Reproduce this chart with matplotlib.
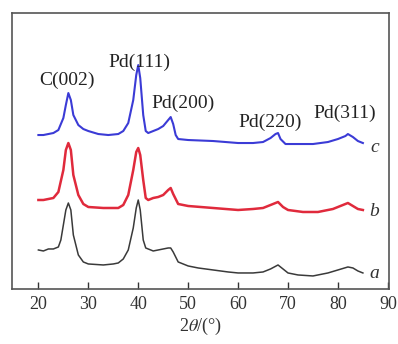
import matplotlib
matplotlib.use("Agg")
import matplotlib.pyplot as plt

plt.rcParams["font.family"] = ["Liberation Serif", "DejaVu Serif"]
plt.rcParams["mathtext.fontset"] = "stix"

# XRD patterns (intensity in a.u., curves already vertically offset)
c_x = [20, 21, 22, 23, 24, 25, 25.5, 26, 26.5, 27, 28, 29, 30, 32, 34, 36, 37, 38, 39, 39.6,
       40, 40.4, 41, 41.5, 42, 43, 44, 45, 46, 46.5, 47, 47.5, 48, 50, 55, 60, 63, 65, 66.5, 67.5,
       68, 68.5, 69.5, 72, 75, 78, 80, 81.5, 82, 83, 84, 85]
c_y = [165, 165, 166, 167, 170, 182, 195, 207, 200, 185, 175, 171, 169, 166, 165, 166, 169, 177, 200, 225,
       235, 222, 185, 169, 167, 169, 171, 174, 180, 183, 176, 165, 161, 160, 159, 157, 157, 158, 162, 166,
       167, 161, 156, 156, 156, 158, 161, 164, 166, 163, 159, 157]

b_x = [20, 21, 22, 23, 24, 25, 25.5, 26, 26.5, 27, 28, 29, 30, 33, 36, 37, 38, 39, 39.6, 40,
       40.4, 41, 41.5, 42, 43, 44, 45, 46, 46.5, 47, 48, 50, 55, 60, 63, 65, 67, 68, 69, 70,
       73, 76, 79, 81, 82, 83, 84, 85]
b_y = [100, 100, 101, 102, 108, 130, 150, 157, 150, 125, 105, 96, 93, 92, 92, 95, 105, 130, 148, 152,
       145, 120, 102, 100, 102, 103, 105, 110, 112, 106, 96, 94, 92, 90, 91, 92, 96, 98, 93, 90,
       88, 88, 91, 95, 97, 94, 91, 90]

a_x = [20, 21, 22, 23, 24, 24.5, 25, 25.5, 26, 26.5, 27, 28, 29, 30, 33, 35, 36, 37, 38, 39,
       39.6, 40, 40.4, 41, 41.5, 42, 43, 44, 45, 46, 46.5, 47, 48, 50, 52, 55, 58, 60, 63, 65,
       66.5, 68, 69, 70, 72, 75, 78, 80, 82, 83, 84, 85]
a_y = [50, 49, 51, 51, 53, 60, 75, 90, 97, 90, 65, 45, 38, 36, 35, 36, 37, 41, 50, 72,
       92, 100, 90, 60, 52, 51, 49, 50, 51, 52, 52, 48, 38, 34, 32, 30, 28, 27, 27, 28,
       31, 35, 31, 27, 25, 24, 27, 30, 33, 32, 29, 27]

peak_labels = ["C(002)", "Pd(111)", "Pd(200)", "Pd(220)", "Pd(311)"]
peak_label_x = [25.7, 40.3, 48.9, 66.5, 81.3]
peak_label_y = [220, 238, 197, 178, 187]

curve_names = ["c", "b", "a"]
curve_name_y = [153, 88, 26]

x_ticks = [20, 30, 40, 50, 60, 70, 80, 90]

fig = plt.figure(figsize=(3.98, 3.44), dpi=100)
ax = fig.add_axes([0.030, 0.160, 0.947, 0.802])

ax.plot(c_x, c_y, color="#3b3bd6", lw=1.5)
ax.plot(b_x, b_y, color="#e02a3c", lw=1.8)
ax.plot(a_x, a_y, color="#3a3a3a", lw=1.1)

for txt, x, y in zip(peak_labels, peak_label_x, peak_label_y):
    ax.text(x, y, txt, ha="center", va="center", fontsize=14, color="#222222")

for txt, y in zip(curve_names, curve_name_y):
    ax.text(87.3, y, txt, ha="center", va="center", fontsize=14, style="italic", color="#333333")

ax.set_xlim(14.7, 90.2)
ax.set_ylim(11, 287)
ax.set_xticks(x_ticks)
ax.set_yticks([])
ax.tick_params(axis="x", direction="in", length=5, width=1.0, labelsize=13, pad=5,
               colors="#333333")
for sp in ax.spines.values():
    sp.set_color("#555555")
    sp.set_linewidth(1.2)

ax.set_xlabel(r"2$\theta$/(°)", fontsize=13, color="#333333", labelpad=2)

fig.savefig("out.png", dpi=100)
